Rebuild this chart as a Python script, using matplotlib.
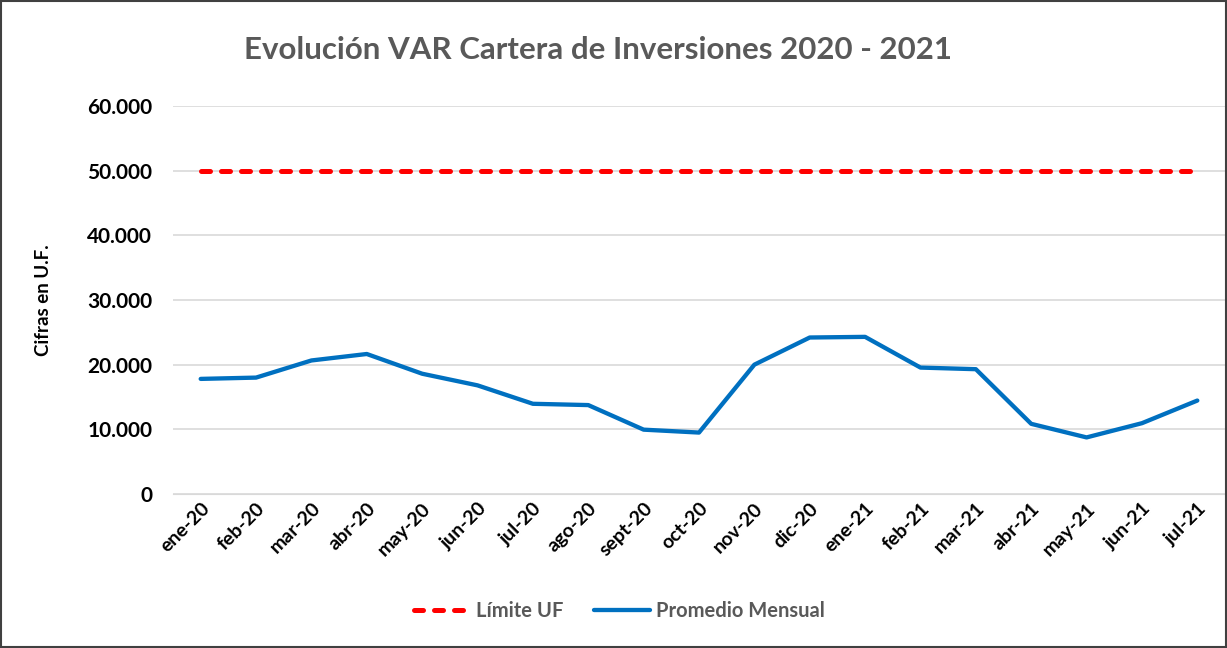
import matplotlib
matplotlib.use("Agg")
import matplotlib.pyplot as plt
from matplotlib.patches import Rectangle
from matplotlib.ticker import FuncFormatter

months = [
    "ene-20", "feb-20", "mar-20", "abr-20", "may-20", "jun-20", "jul-20",
    "ago-20", "sept-20", "oct-20", "nov-20", "dic-20", "ene-21", "feb-21",
    "mar-21", "abr-21", "may-21", "jun-21", "jul-21",
]
promedio_mensual = [
    17800, 18000, 20650, 21650, 18600, 16800, 13950, 13750, 9950, 9500,
    20000, 24200, 24300, 19550, 19300, 10850, 8750, 10950, 14450,
]
limite_uf = [50000] * len(months)

plt.rcParams["font.family"] = ["Lato", "DejaVu Sans"]
plt.rcParams["font.weight"] = "bold"

fig = plt.figure(figsize=(12.27, 6.48), dpi=100)
ax = fig.add_axes([173 / 1227, 1 - 494 / 648, (1225 - 173) / 1227, (494 - 106) / 648])

x = list(range(len(months)))
ax.plot(x, limite_uf, color="#ff0000", lw=3.6, dashes=(1.8, 2.2),
        dash_capstyle="round", label="Límite UF")
ax.plot(x, promedio_mensual, color="#0070c0", lw=3.1, solid_capstyle="round",
        solid_joinstyle="round", label="Promedio Mensual")

ax.set_xlim(-0.5, len(months) - 0.5)
ax.set_ylim(0, 60000)
ax.set_yticks(range(0, 60001, 10000))
ax.yaxis.set_major_formatter(FuncFormatter(lambda v, p: f"{int(v):,}".replace(",", ".")))
ax.grid(axis="y", color="#d9d9d9", lw=1.2)
ax.set_axisbelow(True)
for s in ["top", "right", "left"]:
    ax.spines[s].set_visible(False)
ax.spines["bottom"].set_color("#d9d9d9")
ax.tick_params(axis="y", length=0, pad=15, labelsize=15, labelcolor="black")
ax.tick_params(axis="x", length=0, pad=4, labelsize=14, labelcolor="black")
ax.set_xticks(x)
ax.set_xticklabels(months, rotation=45, ha="right", rotation_mode="anchor")

ax.set_ylabel("Cifras en U.F.", fontsize=13.5, fontweight="bold", labelpad=25)

fig.text(0.487, 1 - 50 / 648, "Evolución VAR Cartera de Inversiones 2020 - 2021",
         ha="center", va="center", fontsize=22.5, fontweight="bold", color="#595959")

leg = fig.legend(loc="center", bbox_to_anchor=(0.505, 1 - 611 / 648), ncol=2,
                 frameon=False, fontsize=14.5, handlelength=2.8, columnspacing=1.5,
                 handletextpad=0.3)
for t in leg.get_texts():
    t.set_color("#595959")

fig.patches.append(Rectangle((0.001, 0.002), 0.998, 0.996, transform=fig.transFigure,
                             fill=False, edgecolor="#404040", lw=1.5))

fig.savefig("out.png", dpi=100)
